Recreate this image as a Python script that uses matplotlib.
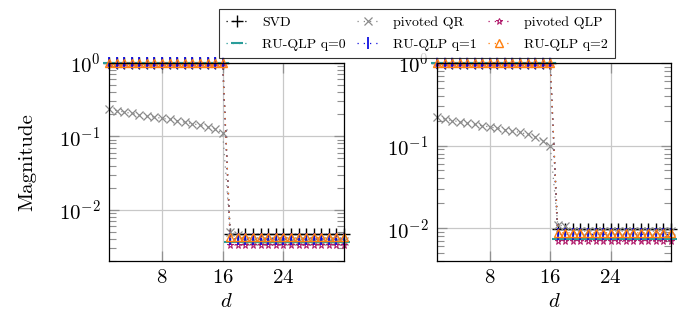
import matplotlib
matplotlib.use("Agg")
import matplotlib.pyplot as plt
from matplotlib.lines import Line2D
from matplotlib.ticker import LogLocator, NullFormatter

plt.rcParams["font.family"] = ["cmr10", "DejaVu Serif"]
plt.rcParams["mathtext.fontset"] = "cm"
plt.rcParams["axes.formatter.use_mathtext"] = True

d = list(range(1, 33))

# left panel
left_svd = [1.0] * 16 + [0.0046] * 16
left_qr = [0.235, 0.225, 0.215, 0.205, 0.198, 0.19, 0.183, 0.176,
           0.17, 0.163, 0.156, 0.149, 0.142, 0.135, 0.127, 0.11,
           0.005, 0.0045] + [0.0038] * 14
left_qlp = [1.0] * 16 + [0.0033] * 16
left_q0 = [1.0] * 16 + [0.0036] * 16
left_q1 = [1.0] * 16 + [0.0040] * 16
left_q2 = [1.0] * 16 + [0.0042] * 16

# right panel
right_svd = [1.0] * 16 + [0.0098] * 16
right_qr = [0.22, 0.21, 0.2, 0.195, 0.188, 0.18, 0.174, 0.168,
            0.162, 0.156, 0.15, 0.144, 0.137, 0.128, 0.115, 0.1,
            0.011, 0.0105] + [0.0092] * 14
right_qlp = [1.0] * 16 + [0.0069] * 16
right_q0 = [1.0] * 16 + [0.0074] * 16
right_q1 = [1.0] * 16 + [0.0084] * 16
right_q2 = [1.0] * 16 + [0.0088] * 16

labels = ["SVD", "pivoted QR", "pivoted QLP", "RU-QLP q=0", "RU-QLP q=1", "RU-QLP q=2"]
styles = [
    dict(color="black", marker="+", ms=8, mew=1.0),
    dict(color="#8a8a8a", marker="x", ms=6, mew=0.9),
    dict(color="#b0186a", marker="*", ms=5, mew=0.7, mfc="none"),
    dict(color="#2a9d9a", marker="_", ms=8, mew=1.5),
    dict(color="#1010e0", marker="|", ms=8, mew=1.3),
    dict(color="#ff7f0e", marker="^", ms=6, mew=1.0, mfc="none"),
]
line_kw = dict(linestyle=(0, (1, 4)), linewidth=0.9)

fig = plt.figure(figsize=(6.94, 3.28), dpi=100)
W, H = 694, 328
ax1 = fig.add_axes([109 / W, (H - 261) / H, 235 / W, 198 / H])
ax2 = fig.add_axes([437 / W, (H - 261) / H, 234 / W, 198 / H])

panels = [
    (ax1, [left_svd, left_qr, left_qlp, left_q0, left_q1, left_q2], 0.002),
    (ax2, [right_svd, right_qr, right_qlp, right_q0, right_q1, right_q2], 0.004),
]

for ax, series, ymin in panels:
    for vals, st in zip(series, styles):
        ax.plot(d, vals, clip_on=False, **line_kw, **st)
    ax.set_yscale("log")
    ax.set_xlim(1, 32)
    ax.set_ylim(ymin, 1.0)
    ax.set_xticks([8, 16, 24])
    ax.yaxis.set_major_locator(LogLocator(base=10, numticks=10))
    ax.yaxis.set_minor_locator(LogLocator(base=10, subs=range(2, 10), numticks=10))
    ax.yaxis.set_minor_formatter(NullFormatter())
    ax.grid(True, which="major", color="#c8c8c8", linewidth=0.9)
    ax.set_axisbelow(True)
    ax.tick_params(which="both", direction="in", right=True, top=True,
                   labelsize=15, color="#909090")
    ax.tick_params(which="major", length=7, width=0.9, pad=6)
    ax.tick_params(which="minor", length=5, width=0.8)
    ax.set_xlabel("$d$", fontsize=15, labelpad=4)
    for sp in ax.spines.values():
        sp.set_linewidth(0.9)

ax1.set_ylabel("Magnitude", fontsize=15)
ax1.yaxis.set_label_coords(-0.31, 0.5)

# legend filled row by row as in the reference
order = [0, 3, 1, 4, 2, 5]
handles = [Line2D([], [], **line_kw, **styles[i]) for i in order]
leg = fig.legend(handles, [labels[i] for i in order], ncol=3, loc="upper center",
                 bbox_to_anchor=(417 / W, 1 - 2 / H), fontsize=10,
                 frameon=True, fancybox=False, edgecolor="black",
                 handlelength=1.6, handletextpad=1.0, columnspacing=0.8,
                 borderpad=0.5, labelspacing=0.7)
leg.get_frame().set_linewidth(0.8)

fig.savefig("out.png", dpi=100)
